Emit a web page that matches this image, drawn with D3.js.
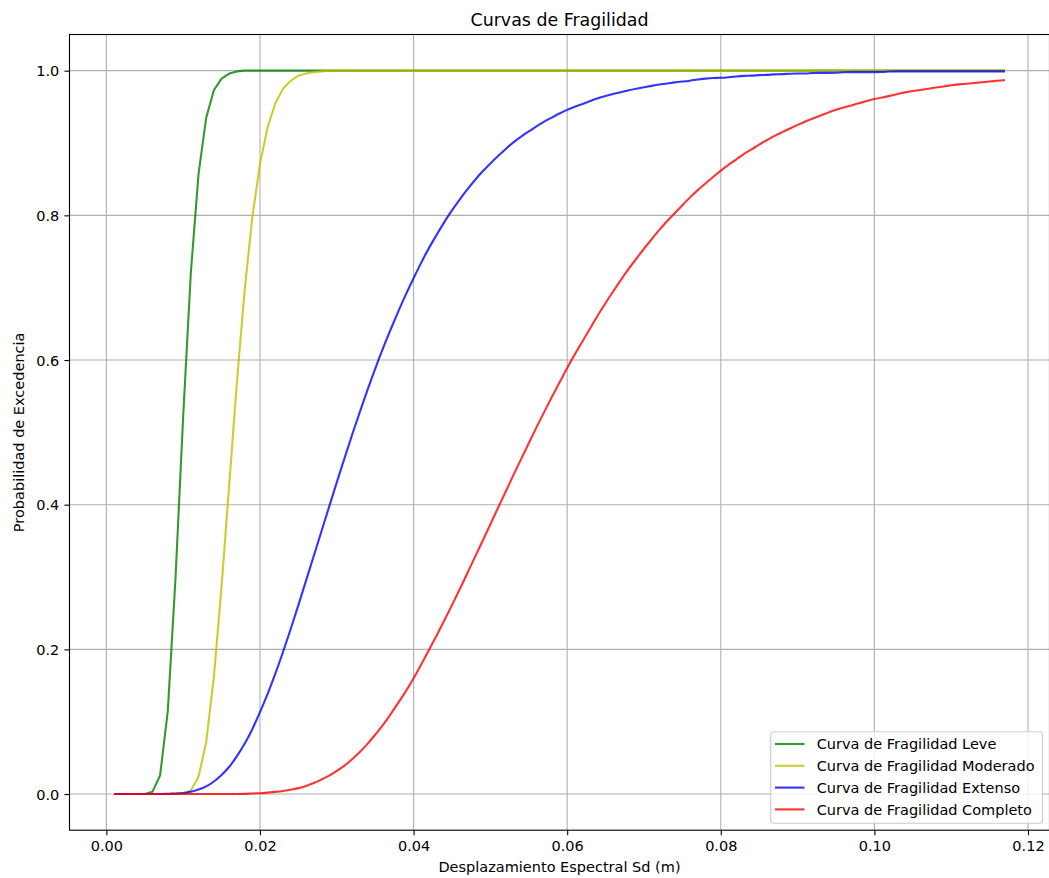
<!DOCTYPE html>
<html>
<head>
<meta charset="utf-8">
<script src="https://cdn.jsdelivr.net/npm/d3@7"></script>
<style>
  body { margin: 0; background: #fff; }
  text { font-family: "DejaVu Sans", sans-serif; fill: #000; }
</style>
</head>
<body>
<div id="chart"></div>
<script>
// Desplazamiento espectral Sd (m), sampled every 0.001 m
var sd = [
  0.001,0.002,0.003,0.004,0.005,0.006,0.007,0.008,0.009,0.010,
  0.011,0.012,0.013,0.014,0.015,0.016,0.017,0.018,0.019,0.020,
  0.021,0.022,0.023,0.024,0.025,0.026,0.027,0.028,0.029,0.030,
  0.031,0.032,0.033,0.034,0.035,0.036,0.037,0.038,0.039,0.040,
  0.041,0.042,0.043,0.044,0.045,0.046,0.047,0.048,0.049,0.050,
  0.051,0.052,0.053,0.054,0.055,0.056,0.057,0.058,0.059,0.060,
  0.061,0.062,0.063,0.064,0.065,0.066,0.067,0.068,0.069,0.070,
  0.071,0.072,0.073,0.074,0.075,0.076,0.077,0.078,0.079,0.080,
  0.081,0.082,0.083,0.084,0.085,0.086,0.087,0.088,0.089,0.090,
  0.091,0.092,0.093,0.094,0.095,0.096,0.097,0.098,0.099,0.100,
  0.101,0.102,0.103,0.104,0.105,0.106,0.107,0.108,0.109,0.110,
  0.111,0.112,0.113,0.114,0.115,0.116,0.117
];

var leve = [
  0,0,0,0,0,0.003,0.026,0.115,0.298,0.522,
  0.721,0.857,0.935,0.973,0.989,0.996,0.999,1,1,1,
  1,1,1,1,1,1,1,1,1,1, 1,1,1,1,1,1,1,1,1,1,
  1,1,1,1,1,1,1,1,1,1, 1,1,1,1,1,1,1,1,1,1,
  1,1,1,1,1,1,1,1,1,1, 1,1,1,1,1,1,1,1,1,1,
  1,1,1,1,1,1,1,1,1,1, 1,1,1,1,1,1,1,1,1,1,
  1,1,1,1,1,1,1,1,1,1, 1,1,1,1,1,1,1
];

var moderado = [
  0,0,0,0,0,0,0,0,0,0.001,
  0.005,0.024,0.072,0.162,0.287,0.428,0.570,0.696,0.797,0.871,
  0.922,0.955,0.975,0.986,0.993,0.996,0.998,0.999,1,1,
  1,1,1,1,1,1,1,1,1,1, 1,1,1,1,1,1,1,1,1,1,
  1,1,1,1,1,1,1,1,1,1, 1,1,1,1,1,1,1,1,1,1,
  1,1,1,1,1,1,1,1,1,1, 1,1,1,1,1,1,1,1,1,1,
  1,1,1,1,1,1,1,1,1,1, 1,1,1,1,1,1,1,1,1,1,
  1,1,1,1,1,1,1
];

var extenso = [
  0,0,0,0,0,0,0,0,0.001,0.001,
  0.003,0.006,0.010,0.017,0.026,0.037,0.052,0.069,0.089,0.113,
  0.138,0.166,0.196,0.228,0.261,0.295,0.329,0.363,0.397,0.431,
  0.464,0.497,0.528,0.559,0.588,0.616,0.642,0.667,0.691,0.713,
  0.735,0.755,0.773,0.791,0.807,0.822,0.836,0.849,0.861,0.872,
  0.882,0.892,0.901,0.909,0.916,0.923,0.930,0.935,0.941,0.946,
  0.950,0.954,0.958,0.962,0.965,0.968,0.970,0.973,0.975,0.977,
  0.979,0.981,0.982,0.984,0.985,0.986,0.988,0.989,0.990,0.990,
  0.991,0.992,0.993,0.993,0.994,0.994,0.995,0.995,0.996,0.996,
  0.996,0.997,0.997,0.997,0.997,0.998,0.998,0.998,0.998,0.998,
  0.998,0.999,0.999,0.999,0.999,0.999,0.999,0.999,0.999,0.999,
  0.999,0.999,0.999,0.999,0.999,0.999,0.999
];

var completo = [
  0,0,0,0,0,0,0,0,0,0,
  0,0,0,0,0,0,0,0,0.001,0.001,
  0.002,0.003,0.004,0.006,0.008,0.011,0.015,0.020,0.025,0.032,
  0.039,0.048,0.058,0.069,0.082,0.095,0.110,0.126,0.142,0.160,
  0.179,0.199,0.219,0.240,0.261,0.283,0.305,0.328,0.350,0.373,
  0.396,0.418,0.441,0.463,0.485,0.507,0.528,0.549,0.569,0.589,
  0.608,0.626,0.644,0.662,0.679,0.695,0.711,0.726,0.740,0.754,
  0.767,0.780,0.792,0.803,0.814,0.825,0.835,0.844,0.853,0.862,
  0.870,0.877,0.885,0.891,0.898,0.904,0.910,0.915,0.920,0.925,
  0.930,0.934,0.938,0.942,0.946,0.949,0.952,0.955,0.958,0.961,
  0.963,0.965,0.968,0.970,0.972,0.973,0.975,0.977,0.978,0.980,
  0.981,0.982,0.983,0.984,0.985,0.986,0.987
];

var seriesNames = [
  "Curva de Fragilidad Leve",
  "Curva de Fragilidad Moderado",
  "Curva de Fragilidad Extenso",
  "Curva de Fragilidad Completo"
];
var seriesColors = ["#008000", "#bfbf00", "#0000ff", "#ff0000"];

var xTicks = [0.00, 0.02, 0.04, 0.06, 0.08, 0.10, 0.12];
var yTicks = [0.0, 0.2, 0.4, 0.6, 0.8, 1.0];

var width = 1049, height = 878;
var margin = {top: 34.5, right: -0.5, bottom: 47.8, left: 69.5};
var w = width - margin.left - margin.right,
    h = height - margin.top - margin.bottom;

var svg = d3.select("#chart").append("svg")
  .attr("width", width)
  .attr("height", height);

var g = svg.append("g")
  .attr("transform", "translate(" + margin.left + "," + margin.top + ")");

// matplotlib-like 5% margins around the data
var xPad = (sd[sd.length - 1] - sd[0]) * 0.05;
var x = d3.scaleLinear()
  .domain([sd[0] - xPad, sd[sd.length - 1] + xPad])
  .range([0, w]);
var y = d3.scaleLinear()
  .domain([-0.05, 1.05])
  .range([h, 0]);

// grid
g.append("g").selectAll("line")
  .data(xTicks).enter().append("line")
  .attr("x1", function(d) { return x(d); })
  .attr("x2", function(d) { return x(d); })
  .attr("y1", 0).attr("y2", h)
  .attr("stroke", "#b0b0b0").attr("stroke-width", 1.1);
g.append("g").selectAll("line")
  .data(yTicks).enter().append("line")
  .attr("y1", function(d) { return y(d); })
  .attr("y2", function(d) { return y(d); })
  .attr("x1", 0).attr("x2", w)
  .attr("stroke", "#b0b0b0").attr("stroke-width", 1.1);

// curves (the two wide ones get a light smoothing so 3-decimal readings don't show as kinks)
var allSeries = [leve, moderado, extenso, completo];
var curves = [d3.curveLinear, d3.curveLinear, d3.curveBasis, d3.curveBasis];

allSeries.forEach(function(vals, i) {
  var line = d3.line()
    .curve(curves[i])
    .x(function(d) { return x(d[0]); })
    .y(function(d) { return y(d[1]); });
  g.append("path")
    .datum(sd.map(function(s, j) { return [s, vals[j]]; }))
    .attr("fill", "none")
    .attr("stroke", seriesColors[i])
    .attr("stroke-opacity", 0.8)
    .attr("stroke-width", 2.1)
    .attr("stroke-linejoin", "round")
    .attr("d", line);
});

// axes
var xAxis = d3.axisBottom(x).tickValues(xTicks)
  .tickFormat(d3.format(".2f")).tickSizeOuter(0).tickSize(5.1).tickPadding(5.2);
var yAxis = d3.axisLeft(y).tickValues(yTicks)
  .tickFormat(d3.format(".1f")).tickSizeOuter(0).tickSize(5.1).tickPadding(5.1);

var gx = g.append("g")
  .attr("transform", "translate(0," + h + ")")
  .call(xAxis);
var gy = g.append("g").call(yAxis);

[gx, gy].forEach(function(a) {
  a.select(".domain").remove();
  a.selectAll(".tick line").attr("stroke", "#000").attr("stroke-width", 1.1);
  a.selectAll(".tick text")
    .style("font-family", "DejaVu Sans")
    .style("font-size", "14.5px")
    .attr("fill", "#000");
});
gx.selectAll(".tick text").attr("dy", "0.73em");
gy.selectAll(".tick text").attr("dy", "0.36em");

// spines
g.append("rect")
  .attr("x", 0).attr("y", 0)
  .attr("width", w).attr("height", h)
  .attr("fill", "none")
  .attr("stroke", "#000")
  .attr("stroke-width", 1.1);

// title and labels
svg.append("text")
  .attr("x", margin.left + w / 2)
  .attr("y", 26)
  .attr("text-anchor", "middle")
  .style("font-size", "17.4px")
  .text("Curvas de Fragilidad");

svg.append("text")
  .attr("x", margin.left + w / 2)
  .attr("y", 872)
  .attr("text-anchor", "middle")
  .style("font-size", "14.5px")
  .text("Desplazamiento Espectral Sd (m)");

svg.append("text")
  .attr("transform", "translate(24," + (margin.top + h / 2) + ") rotate(-90)")
  .attr("text-anchor", "middle")
  .style("font-size", "14.5px")
  .text("Probabilidad de Excedencia");

// legend (lower right)
var legend = svg.append("g");
legend.append("rect")
  .attr("x", 770.7).attr("y", 731.7)
  .attr("width", 271.8).attr("height", 91.5)
  .attr("rx", 2.9).attr("ry", 2.9)
  .attr("fill", "#fff").attr("fill-opacity", 0.8)
  .attr("stroke", "#cccccc").attr("stroke-width", 1.1);

var items = legend.selectAll("g.item")
  .data(seriesNames).enter().append("g")
  .attr("class", "item")
  .attr("transform", function(d, i) { return "translate(775," + (744 + i * 21.8) + ")"; });
items.append("line")
  .attr("x1", 0).attr("x2", 29.5)
  .attr("stroke", function(d, i) { return seriesColors[i]; })
  .attr("stroke-opacity", 0.8)
  .attr("stroke-width", 2.1);
items.append("text")
  .attr("x", 41.7)
  .attr("dy", "0.36em")
  .style("font-size", "14.5px")
  .text(function(d) { return d; });
</script>
</body>
</html>
